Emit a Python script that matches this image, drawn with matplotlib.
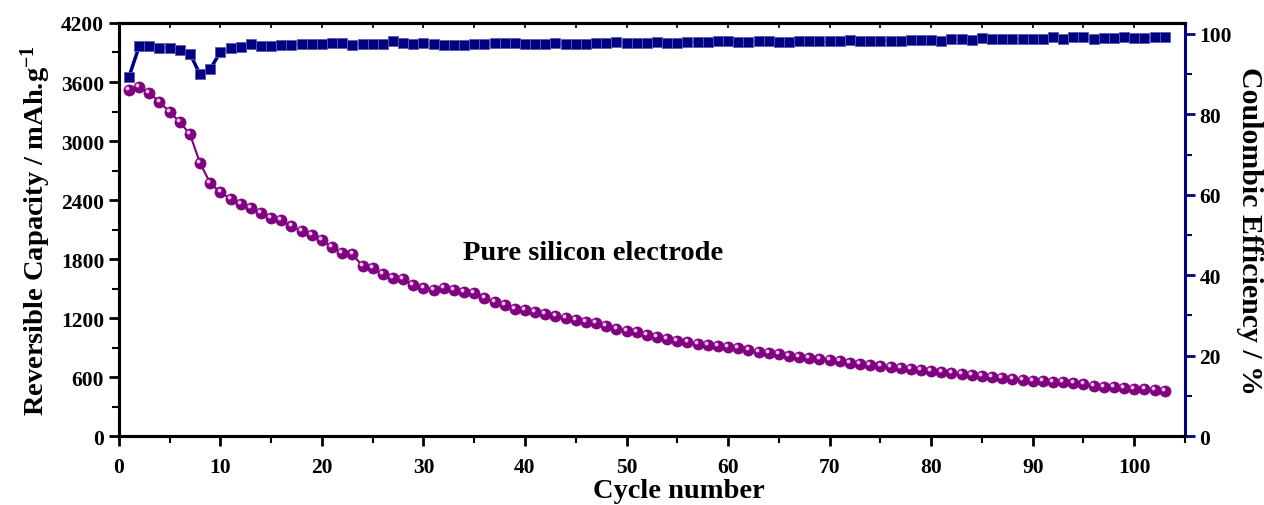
import matplotlib
matplotlib.use("Agg")
import matplotlib.pyplot as plt
from matplotlib.ticker import MultipleLocator
import matplotlib.transforms as mtransforms

cycles = list(range(1, 104))
capacity = [3522, 3552, 3488, 3397, 3298, 3193, 3071, 2776, 2573, 2478,
            2415, 2362, 2320, 2268, 2222, 2198, 2133, 2085, 2047, 1993,
            1922, 1858, 1848, 1732, 1705, 1645, 1605, 1597, 1536, 1508,
            1485, 1508, 1482, 1464, 1457, 1403, 1366, 1335, 1291, 1285,
            1264, 1237, 1217, 1200, 1183, 1163, 1149, 1115, 1088, 1071,
            1054, 1027, 1007, 986, 969, 953, 942, 925, 912, 905,
            892, 876, 859, 847, 832, 817, 807, 797, 783, 773,
            760, 746, 736, 725, 715, 705, 692, 681, 671, 658,
            651, 641, 631, 620, 607, 600, 593, 583, 576, 566,
            559, 549, 546, 536, 529, 508, 505, 495, 488, 478,
            475, 468, 455]
efficiency = [89.3, 96.9, 96.9, 96.6, 96.4, 96.1, 95.1, 89.9, 91.3, 95.4,
              96.4, 96.8, 97.4, 97.1, 97.1, 97.3, 97.3, 97.5, 97.5, 97.4,
              97.7, 97.7, 97.3, 97.6, 97.5, 97.5, 98.3, 97.7, 97.6, 97.7,
              97.4, 97.3, 97.3, 97.3, 97.4, 97.6, 97.7, 97.7, 97.7, 97.6,
              97.5, 97.4, 97.8, 97.6, 97.6, 97.6, 97.7, 97.8, 98.0, 97.8,
              97.7, 97.7, 97.9, 97.7, 97.8, 98.0, 97.9, 98.0, 98.1, 98.1,
              98.0, 97.9, 98.1, 98.1, 98.0, 98.0, 98.1, 98.2, 98.2, 98.1,
              98.3, 98.4, 98.2, 98.2, 98.3, 98.3, 98.3, 98.4, 98.4, 98.4,
              98.2, 98.6, 98.6, 98.4, 98.9, 98.7, 98.6, 98.8, 98.8, 98.8,
              98.8, 99.1, 98.8, 99.1, 99.2, 98.6, 99.0, 99.0, 99.1, 99.0,
              99.0, 99.3, 99.2]

left_ticks = [0, 600, 1200, 1800, 2400, 3000, 3600, 4200]
right_ticks = [0, 20, 40, 60, 80, 100]
x_ticks = list(range(0, 101, 10))

plt.rcParams['font.family'] = ['Liberation Serif', 'DejaVu Serif']
plt.rcParams['font.weight'] = 'bold'
plt.rcParams['mathtext.fontset'] = 'custom'
plt.rcParams['mathtext.rm'] = 'Liberation Serif:bold'
plt.rcParams['mathtext.bf'] = 'Liberation Serif:bold'
plt.rcParams['mathtext.default'] = 'bf'

fig = plt.figure(figsize=(12.64, 5.06), dpi=100)
ax = fig.add_axes([0.094, 0.136, 0.8435, 0.8166])
ax2 = ax.twinx()

purple = '#800080'
navy = '#000080'

ax.plot(cycles, capacity, color=purple, lw=1.5, marker='o', ms=8.0,
        mfc=purple, mec=purple, mew=0.5, zorder=3)
hl = mtransforms.offset_copy(ax.transData, fig=fig, x=-1.8, y=2.0, units='dots')
ax.plot(cycles, capacity, ls='none', marker='o', ms=2.8, mfc='#e8c0e8',
        mec='none', transform=hl, zorder=4)

ax2.plot(cycles, efficiency, color=navy, lw=2.5, marker='s', ms=6.8,
         mfc=navy, mec='#5a5ab0', mew=0.6, zorder=3)

ax.set_xlim(0, 105)
ax.set_ylim(0, 4200)
ax2.set_ylim(0, 102.7)

ax.set_xticks(x_ticks)
ax.xaxis.set_minor_locator(MultipleLocator(5))
ax.set_yticks(left_ticks)
ax.yaxis.set_minor_locator(MultipleLocator(300))
ax2.set_yticks(right_ticks)
ax2.yaxis.set_minor_locator(MultipleLocator(10))

ax.tick_params(axis='both', which='major', direction='out', length=7, width=2,
               labelsize=15.5, colors='black')
ax.tick_params(axis='both', which='minor', direction='out', length=5, width=1.5)
ax.tick_params(axis='x', which='both', top=False, pad=8)
ax2.tick_params(axis='y', which='major', direction='out', length=7, width=2,
                labelsize=15.5, colors=navy, labelcolor='black')
ax2.tick_params(axis='y', which='minor', direction='out', length=5, width=1.5,
                colors=navy)

top = ax.secondary_xaxis('top')
top.set_xticks(list(range(0, 106, 5)))
top.tick_params(axis='x', direction='in', length=3.5, width=1.2, labeltop=False)
top.spines['top'].set_linewidth(2.2)

for lab in ax.get_xticklabels() + ax.get_yticklabels() + ax2.get_yticklabels():
    lab.set_fontweight('bold')

for s in ['left', 'bottom', 'top']:
    ax.spines[s].set_linewidth(2.2)
    ax2.spines[s].set_linewidth(2.2)
ax2.spines['right'].set_color(navy)
ax2.spines['right'].set_linewidth(2.2)
ax.spines['right'].set_visible(False)

ax.set_xlabel('Cycle number', fontsize=20.5, fontweight='bold')
ax.xaxis.set_label_coords(0.525, -0.102)
ax.set_ylabel('Reversible Capacity / mAh.g$^{-1}$', fontsize=20.5,
              fontweight='bold', labelpad=6)
ax2.set_ylabel('Coulombic Efficiency / %', fontsize=21.5, fontweight='bold',
               rotation=270, labelpad=22)

ax.text(0.445, 0.445, 'Pure silicon electrode', transform=ax.transAxes,
        ha='center', va='center', fontsize=20.5, fontweight='bold')

fig.savefig('out.png', dpi=100)
